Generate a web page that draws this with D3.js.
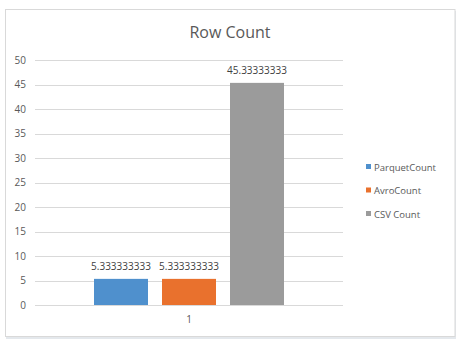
<!DOCTYPE html>
<html><head><meta charset="utf-8">
<script src="https://cdn.jsdelivr.net/npm/d3@7"></script>
<style>body{margin:0;background:#fff}svg{display:block}text{font-family:"Open Sans","Liberation Sans",sans-serif}</style>
</head><body>
<script>
const categories = ["1"];
const seriesNames = ["ParquetCount", "AvroCount", "CSV Count"];
const seriesValues = [5.333333333, 5.333333333, 45.33333333];
const valueLabels = ["5.333333333", "5.333333333", "45.33333333"];
const colors = ["#4f90cd", "#e9712d", "#9b9b9b"];
const yTicks = [0, 5, 10, 15, 20, 25, 30, 35, 40, 45, 50];
const title = "Row Count";

const W = 465, H = 346;
const svg = d3.select("body").append("svg").attr("width", W).attr("height", H);

// chart frame with shadow
svg.append("rect").attr("x", 6).attr("y", 11).attr("width", 450).attr("height", 328).attr("fill", "#e4e8ec");
svg.append("rect").attr("x", 5.5).attr("y", 9.5).attr("width", 449.5).attr("height", 327).attr("fill", "#fff").attr("stroke", "#d9d9d9");

const x0 = d3.scaleBand().domain(categories).range([35, 343]);
const y = d3.scaleLinear().domain([0, 50]).range([305, 60]);

// gridlines
svg.append("g").selectAll("line").data(yTicks).join("line")
  .attr("x1", 35).attr("x2", 343)
  .attr("y1", d => Math.round(y(d)) + 0.5).attr("y2", d => Math.round(y(d)) + 0.5)
  .attr("stroke", "#d9d9d9").attr("stroke-width", 1);

// y axis
const yAxis = d3.axisLeft(y).tickValues(yTicks).tickSize(0).tickPadding(0);
const gy = svg.append("g").attr("transform", "translate(26,0)").call(yAxis);
gy.select(".domain").remove();
gy.selectAll("text").attr("fill", "#595959").style("font-size", "10px").style("font-family", "'Open Sans','Liberation Sans',sans-serif");

// x axis
const xAxis = d3.axisBottom(x0).tickSize(0).tickPadding(0);
const gx = svg.append("g").attr("transform", "translate(0,316)").call(xAxis);
gx.select(".domain").remove();
gx.selectAll("text").attr("fill", "#595959").style("font-size", "10px").style("font-family", "'Open Sans','Liberation Sans',sans-serif");

// bars
const barX = d3.scaleBand().domain(seriesNames).range([94, 284]).paddingInner(14/68);
const data = seriesNames.map((s, i) => ({ s, v: seriesValues[i], label: valueLabels[i], c: colors[i] }));
svg.append("g").selectAll("rect").data(data).join("rect")
  .attr("x", d => barX(d.s)).attr("width", barX.bandwidth())
  .attr("y", d => y(d.v)).attr("height", d => y(0) - y(d.v))
  .attr("fill", d => d.c);

svg.append("g").selectAll("text").data(data).join("text")
  .attr("x", d => barX(d.s) + barX.bandwidth() / 2)
  .attr("y", d => y(d.v) - 9)
  .attr("text-anchor", "middle")
  .attr("fill", "#404040").style("font-size", "10px")
  .text(d => d.label);

// title
svg.append("text").attr("x", 230).attr("y", 38).attr("text-anchor", "middle")
  .attr("fill", "#595959").style("font-size", "16px").text(title);

// legend
const lg = svg.append("g").selectAll("g").data(data).join("g")
  .attr("transform", (d, i) => `translate(366,${167 + i * 23.5})`);
lg.append("rect").attr("x", 0).attr("y", -3).attr("width", 5).attr("height", 5).attr("fill", d => d.c);
lg.append("text").attr("x", 8).attr("y", 3.5).attr("fill", "#595959").style("font-size", "9.5px").text(d => d.s);
</script>
</body></html>
